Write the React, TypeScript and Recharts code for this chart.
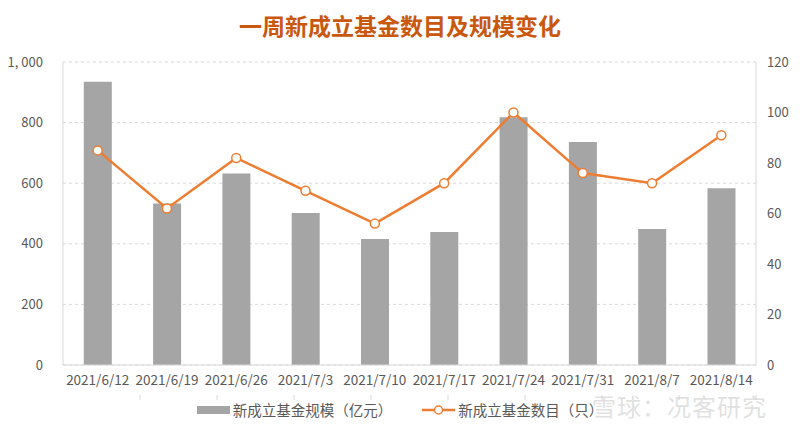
import {
  ComposedChart,
  Bar,
  Line,
  XAxis,
  YAxis,
  CartesianGrid,
} from 'recharts';

const categories = [
  '2021/6/12', '2021/6/19', '2021/6/26', '2021/7/3', '2021/7/10',
  '2021/7/17', '2021/7/24', '2021/7/31', '2021/8/7', '2021/8/14',
];
const fundScale = [935, 533, 632, 502, 416, 439, 818, 736, 449, 583];
const fundCount = [85, 62, 82, 69, 56, 72, 100, 76, 72, 91];
const leftTicks = [0, 200, 400, 600, 800, 1000];
const rightTicks = [0, 20, 40, 60, 80, 100, 120];
const boundaryTicks = [1, 2, 3, 4, 5, 6, 7, 8, 9];

const FONT = '"Noto Sans CJK SC", "Noto Sans", sans-serif';
const BAR = '#A5A5A5';
const ORANGE = '#ED7D31';
const AXIS = '#D9D9D9';
const LABEL = '#595959';

const data = categories.map((name, i) => ({
  name,
  scale: fundScale[i],
  count: fundCount[i],
}));

const fmtThousands = (v: number) => String(v).replace(/\B(?=(\d{3})+(?!\d))/g, ', ');

function Legend() {
  return (
    <div
      style={{
        position: 'absolute',
        top: 399,
        left: 0,
        width: 800,
        display: 'flex',
        justifyContent: 'center',
        alignItems: 'center',
        gap: 30,
        fontSize: 14.5,
        color: LABEL,
        fontFamily: FONT,
        paddingRight: 4,
      }}
    >
      <div style={{ display: 'flex', alignItems: 'center', gap: 3 }}>
        <svg width={33} height={10}>
          <rect x={0} y={1} width={33} height={8} fill={BAR} />
        </svg>
        <span>新成立基金规模（亿元）</span>
      </div>
      <div style={{ display: 'flex', alignItems: 'center', gap: 3 }}>
        <svg width={33} height={12}>
          <line x1={0} y1={6} x2={33} y2={6} stroke={ORANGE} strokeWidth={2.5} />
          <circle cx={16.5} cy={6} r={4} fill="#fff" stroke={ORANGE} strokeWidth={1.5} />
        </svg>
        <span>新成立基金数目（只）</span>
      </div>
    </div>
  );
}

export default function App() {
  return (
    <div style={{ position: 'relative', width: 800, height: 427, margin: -8, background: '#fff' }}>
      <div
        style={{
          position: 'absolute',
          top: 8,
          left: 0,
          width: 800,
          textAlign: 'center',
          fontFamily: FONT,
          fontWeight: 700,
          fontSize: 23,
          color: '#C9570E',
          lineHeight: '34px',
        }}
      >
        一周新成立基金数目及规模变化
      </div>
      <ComposedChart
        width={800}
        height={427}
        data={data}
        margin={{ top: 62, right: 0, bottom: 31, left: 0 }}
        barCategoryGap="30%"
        style={{ fontFamily: FONT }}
      >
        <CartesianGrid
          yAxisId="left"
          vertical={false}
          stroke={AXIS}
          strokeDasharray="3 3"
        />
        <XAxis
          dataKey="name"
          height={30}
          interval={0}
          tick={{ fill: LABEL, fontSize: 13.5 }}
          tickLine={false}
          tickSize={0}
          tickMargin={10}
          axisLine={{ stroke: AXIS }}
        />
        <XAxis
          xAxisId="bounds"
          type="number"
          domain={[0, 10]}
          ticks={boundaryTicks}
          interval={0}
          height={1}
          tickFormatter={() => ''}
          tickSize={5}
          tickLine={{ stroke: AXIS }}
          axisLine={false}
        />
        <YAxis
          yAxisId="left"
          width={63}
          domain={[0, 1000]}
          ticks={leftTicks}
          tickFormatter={fmtThousands}
          tick={{ fill: LABEL, fontSize: 13 }}
          tickLine={false}
          tickSize={0}
          tickMargin={20}
          axisLine={{ stroke: AXIS }}
        />
        <YAxis
          yAxisId="right"
          orientation="right"
          width={44}
          domain={[0, 120]}
          ticks={rightTicks}
          tick={{ fill: LABEL, fontSize: 13, textAnchor: 'start' }}
          tickLine={false}
          tickSize={0}
          tickMargin={11}
          axisLine={{ stroke: AXIS }}
        />
        <Bar yAxisId="left" dataKey="scale" fill={BAR} isAnimationActive={false} />
        <Line
          yAxisId="right"
          dataKey="count"
          stroke={ORANGE}
          strokeWidth={2.5}
          dot={{ r: 4.5, fill: '#fff', stroke: ORANGE, strokeWidth: 1.5 }}
          isAnimationActive={false}
        />
      </ComposedChart>
      <Legend />
      <div
        style={{
          position: 'absolute',
          top: 388,
          left: 592,
          fontFamily: FONT,
          fontSize: 24,
          color: 'rgba(200,200,200,0.55)',
          letterSpacing: 1,
        }}
      >
        雪球：况客研究
      </div>
    </div>
  );
}
